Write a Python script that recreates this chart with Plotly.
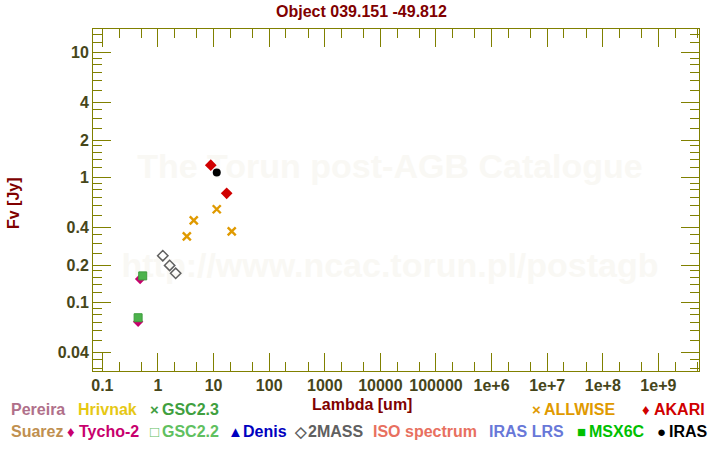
import plotly.graph_objects as go

# ---------------- data ----------------
allwise_wl = [3.3, 4.4, 11.4, 21.2]
allwise_fx = [0.34, 0.456, 0.56, 0.372]

akari_wl = [8.9, 17.2]
akari_fx = [1.26, 0.75]

iras_wl = [11.4]
iras_fx = [1.10]

twomass_wl = [1.22, 1.62, 2.08]
twomass_fx = [0.238, 0.199, 0.172]

tycho_wl = [0.439, 0.477]
tycho_fx = [0.0705, 0.155]

gsc22_wl = [0.439, 0.531]
gsc22_fx = [0.0759, 0.164]

x_tickvals = [0.1, 1, 10, 100, 1000, 1e4, 1e5, 1e6, 1e7, 1e8, 1e9]
x_ticktext = ["0.1", "1", "10", "100", "1000", "10000", "100000",
              "1e+6", "1e+7", "1e+8", "1e+9"]
y_tickvals = [0.04, 0.1, 0.2, 0.4, 1, 2, 4, 10]
y_ticktext = ["0.04", "0.1", "0.2", "0.4", "1", "2", "4", "10"]

x_minor = []
for e in range(-1, 10):
    for m in (2, 5):
        x_minor.append(m * 10.0 ** e)
y_minor = [0.03, 0.035, 0.05, 0.06, 0.07, 0.08, 0.09,
           0.12, 0.14, 0.16, 0.18, 0.25, 0.3, 0.35,
           0.5, 0.6, 0.7, 0.8, 0.9, 1.2, 1.4, 1.6, 1.8,
           2.5, 3, 3.5, 5, 6, 7, 8, 9, 12, 14]

legend_row1 = [("Pereira", "#b0708a", None, 10),
               ("Hrivnak", "#e6c814", None, 77),
               ("GSC2.3", "#40a040", "×", 161),
               ("ALLWISE", "#e09a00", "×", 543),
               ("AKARI", "#d00000", "♦", 653)]
legend_row2 = [("Suarez", "#c09050", None, 10),
               ("Tycho-2", "#c8006e", "♦", 78),
               ("GSC2.2", "#60c060", "□", 161),
               ("Denis", "#0000c0", "▲", 242),
               ("2MASS", "#606060", "◇", 307),
               ("ISO spectrum", "#e87060", None, 372),
               ("IRAS LRS", "#6878d8", None, 488),
               ("MSX6C", "#00c000", "■", 588),
               ("IRAS", "#000000", "●", 668)]

# ---------------- layout geometry ----------------
W, H = 720, 450
L, R, T, B = 93, 699, 29, 371
FONT = "Liberation Sans, Arial, sans-serif"
OLIVE = "#808000"
TICKTXT = "#46461a"
DARKRED = "#800000"


def px(xp):
    return (xp - L) / (R - L)


def py(yp):
    return (B - yp) / (B - T)


fig = go.Figure()

fig.add_trace(go.Scatter(x=tycho_wl, y=tycho_fx, mode="markers",
                         marker=dict(symbol="diamond", size=8, color="#c8006e",
                                     line=dict(width=0))))
fig.add_trace(go.Scatter(x=gsc22_wl, y=gsc22_fx, mode="markers",
                         marker=dict(symbol="square", size=8, color="#4cb34c",
                                     line=dict(width=1, color="#3e9e3e"))))
fig.add_trace(go.Scatter(x=twomass_wl, y=twomass_fx, mode="markers",
                         marker=dict(symbol="diamond-open", size=8, color="#606060",
                                     line=dict(width=1.5, color="#606060"))))
fig.add_trace(go.Scatter(x=allwise_wl, y=allwise_fx, mode="markers",
                         marker=dict(symbol="x-thin-open", size=8, color="#e09a00",
                                     line=dict(width=2.4, color="#e09a00"))))
fig.add_trace(go.Scatter(x=akari_wl, y=akari_fx, mode="markers",
                         marker=dict(symbol="diamond", size=9, color="#d00000",
                                     line=dict(width=0))))
fig.add_trace(go.Scatter(x=iras_wl, y=iras_fx, mode="markers",
                         marker=dict(symbol="circle", size=8, color="#000000",
                                     line=dict(width=0))))

axis_common = dict(
    type="log", showgrid=False, zeroline=False,
    showline=True, linecolor=OLIVE, linewidth=1, mirror="allticks",
    ticks="inside", ticklen=18, tickwidth=1, tickcolor=OLIVE,
    tickmode="array",
    tickfont=dict(family=FONT, size=16, color=TICKTXT, weight="bold"),
)

fig.update_xaxes(**axis_common, range=[-1.169, 9.731],
                 tickvals=x_tickvals, ticktext=x_ticktext,
                 minor=dict(tickmode="array", tickvals=x_minor, ticks="inside",
                            ticklen=9, tickcolor=OLIVE, tickwidth=1))
fig.update_yaxes(**axis_common, range=[-1.546, 1.19],
                 tickvals=y_tickvals, ticktext=y_ticktext,
                 minor=dict(tickmode="array", tickvals=y_minor, ticks="inside",
                            ticklen=9, tickcolor=OLIVE, tickwidth=1))

annotations = []


def add_text(text, xp, yp, color, size=16, xanchor="left", angle=0):
    annotations.append(dict(text=text, x=px(xp), y=py(yp), xref="paper", yref="paper",
                            xanchor=xanchor, yanchor="middle", showarrow=False,
                            textangle=angle,
                            font=dict(family=FONT, size=size, color=color, weight="bold")))


add_text("Object 039.151 -49.812", 361, 11, DARKRED, xanchor="center")
add_text("Lambda [um]", 362, 404, DARKRED, xanchor="center")
add_text("Fv [Jy]", 13, 203, DARKRED, xanchor="center", angle=-90)

for row, yrow in ((legend_row1, 410), (legend_row2, 431)):
    for name, col, sym, xstart in row:
        add_text(name, xstart - 1, yrow, col)
        if sym:
            add_text(sym, xstart - 7, yrow, col, size=15, xanchor="center")

shapes = []
for text, yc in (("The Torun post-AGB Catalogue", 163),
                 ("http://www.ncac.torun.pl/postagb", 262)):
    shapes.append(dict(type="rect", xref="paper", yref="paper",
                       x0=px(100), x1=px(680), y0=py(yc + 20), y1=py(yc - 20),
                       line=dict(width=0), fillcolor="rgba(0,0,0,0)", layer="below",
                       label=dict(text=text, textposition="middle center",
                                  font=dict(family=FONT, size=34, color="#f9f8f4",
                                            weight="bold"))))

fig.update_layout(
    width=W, height=H,
    margin=dict(l=L, r=W - R, t=T, b=H - B),
    paper_bgcolor="white", plot_bgcolor="white",
    showlegend=False,
    annotations=annotations,
    shapes=shapes,
)

fig.write_html("out.html",
               config={"displayModeBar": False, "staticPlot": True},
               post_script="document.body.style.margin='0';"
                           "document.body.style.overflow='hidden';")
